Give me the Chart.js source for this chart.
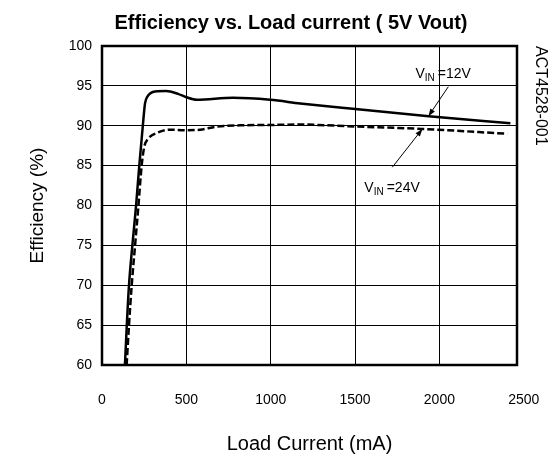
<!DOCTYPE html>
<html>
<head>
<meta charset="utf-8">
<script src="https://cdn.jsdelivr.net/npm/chart.js@4"></script>
<style>body{margin:0;background:#fff}</style>
</head>
<body>
<canvas id="chart" width="554" height="459"></canvas>
<script>
const current12 = [136, 147, 160, 180, 202, 221, 242, 255, 269, 315, 380, 450, 497, 562, 777, 997, 1175, 1501, 1937, 2421];
const eff12 = [60, 65, 70, 75, 80, 85, 90, 92.8, 93.65, 94.3, 94.35, 94.0, 93.6, 93.25, 93.5, 93.25, 92.8, 92.1, 91.2, 90.3];
const current24 = [146, 160, 176, 196, 216, 235, 251, 275, 325, 399, 497, 582, 681, 819, 997, 1175, 1501, 1897, 2402];
const eff24 = [60, 65, 70, 75, 80, 85, 87.4, 88.4, 89.1, 89.5, 89.45, 89.5, 89.9, 90.05, 90.1, 90.15, 89.9, 89.6, 89.0];

const xTicks = [0, 500, 1000, 1500, 2000, 2500];
const xMax = 2460;

// callouts: label text, where it sits and where its arrow points (data units)
const callouts = [
  {value: '=12V', x: 1858, y: 96.0, from: [2053, 94.9], to: [1935, 91.2]},
  {value: '=24V', x: 1555, y: 81.7, from: [1721, 84.8], to: [1899, 89.6]},
];

Chart.defaults.font.family = '"Liberation Sans", Arial, sans-serif';
Chart.defaults.color = '#000';

const toPoints = (xs, ys) => xs.map((x, i) => ({x: x, y: ys[i]}));

const frame = {
  id: 'frame',
  afterDatasetsDraw(chart) {
    const {ctx, chartArea: a} = chart;
    ctx.save();
    ctx.lineWidth = 2.5;
    ctx.strokeStyle = '#000';
    ctx.strokeRect(a.left, a.top, a.right - a.left, a.bottom - a.top);
    ctx.restore();
  }
};

const notes = {
  id: 'notes',
  afterDraw(chart) {
    const {ctx, scales: {x, y}} = chart;
    ctx.save();
    ctx.fillStyle = '#000';
    ctx.strokeStyle = '#000';
    callouts.forEach((c) => {
      let px = x.getPixelForValue(c.x);
      const py = y.getPixelForValue(c.y);
      ctx.textBaseline = 'alphabetic';
      ctx.font = '14px "Liberation Sans", Arial, sans-serif';
      ctx.fillText('V', px, py);
      px += ctx.measureText('V').width;
      ctx.font = '10px "Liberation Sans", Arial, sans-serif';
      ctx.fillText('IN', px, py + 3);
      px += ctx.measureText('IN').width + 3;
      ctx.font = '14px "Liberation Sans", Arial, sans-serif';
      ctx.fillText(c.value, px, py);

      const x1 = x.getPixelForValue(c.from[0]), y1 = y.getPixelForValue(c.from[1]);
      const x2 = x.getPixelForValue(c.to[0]), y2 = y.getPixelForValue(c.to[1]);
      ctx.lineWidth = 1;
      ctx.beginPath();
      ctx.moveTo(x1, y1);
      ctx.lineTo(x2, y2);
      ctx.stroke();
      const ang = Math.atan2(y2 - y1, x2 - x1);
      ctx.beginPath();
      ctx.moveTo(x2, y2);
      ctx.lineTo(x2 - 8 * Math.cos(ang - 0.35), y2 - 8 * Math.sin(ang - 0.35));
      ctx.lineTo(x2 - 8 * Math.cos(ang + 0.35), y2 - 8 * Math.sin(ang + 0.35));
      ctx.closePath();
      ctx.fill();
    });
    ctx.restore();
  }
};

new Chart(document.getElementById('chart'), {
  type: 'line',
  data: {
    datasets: [
      {
        label: 'VIN=12V',
        data: toPoints(current12, eff12),
        borderColor: '#000',
        borderWidth: 2.5,
        pointRadius: 0,
        cubicInterpolationMode: 'monotone',
      },
      {
        label: 'VIN=24V',
        data: toPoints(current24, eff24),
        borderColor: '#000',
        borderWidth: 2.5,
        borderDash: [7, 3],
        pointRadius: 0,
        cubicInterpolationMode: 'monotone',
      },
    ],
  },
  options: {
    responsive: false,
    animation: false,
    layout: {padding: {left: 28, right: 0, top: 0, bottom: 0}},
    plugins: {
      legend: {display: false},
      tooltip: {enabled: false},
      title: {
        display: true,
        text: 'Efficiency vs. Load current ( 5V Vout)',
        font: {size: 20, weight: 'bold'},
        padding: {top: 11, bottom: 11},
      },
    },
    scales: {
      x: {
        type: 'linear',
        min: 0,
        max: xMax,
        afterBuildTicks: (s) => { s.ticks = xTicks.map((v) => ({value: v})); },
        afterFit: (s) => {
          s.height = 94;
          s.paddingLeft = 0;
          s.paddingRight = 0;
        },
        ticks: {autoSkip: false, maxRotation: 0, padding: 27, font: {size: 14}, callback: (v) => String(v)},
        grid: {
          drawTicks: false,
          color: (c) => (c.tick && c.tick.value > xMax ? 'transparent' : '#000'),
          lineWidth: 1,
        },
        border: {display: false},
        title: {display: true, text: 'Load Current (mA)', font: {size: 20}, padding: {bottom: 3}},
      },
      y: {
        min: 60,
        max: 100,
        afterFit: (s) => { s.width = 74; },
        ticks: {stepSize: 5, padding: 10, font: {size: 14}},
        grid: {drawTicks: false, color: '#000', lineWidth: 1},
        border: {display: false},
        title: {display: true, text: 'Efficiency (%)', font: {size: 19, lineHeight: 1}, padding: {top: 0}},
      },
      y2: {
        position: 'right',
        afterFit: (s) => { s.width = 37; },
        ticks: {display: false},
        grid: {display: false},
        border: {display: false},
        title: {display: true, text: 'ACT4528-001', align: 'end', font: {size: 16}, padding: {top: 4}},
      },
    },
  },
  plugins: [frame, notes],
});
</script>
</body>
</html>
